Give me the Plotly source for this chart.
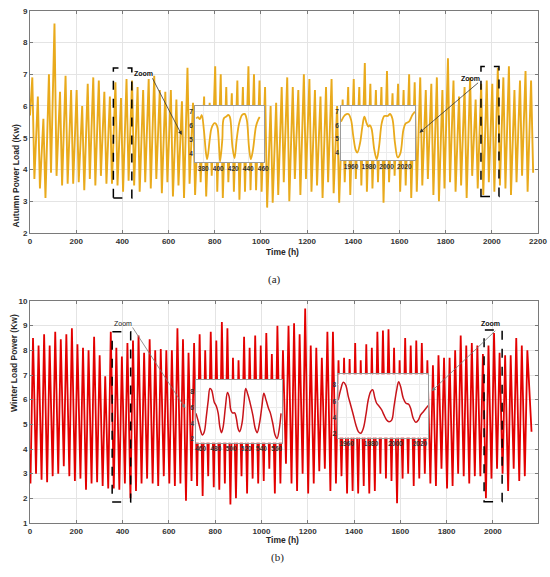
import plotly.graph_objects as go

# ---------------- data ----------------
# Autumn: one peak and one trough per day (peak ~hour 10, trough ~hour 19)
autumn_start = 5.7
autumn_peaks = [6.9, 6.3, 5.6, 7.0, 8.6, 6.45, 6.95, 6.5, 6.5, 6.0, 6.7, 6.9, 6.8, 6.45, 6.3, 6.75, 6.25, 6.85, 6.8,
                6.6, 6.5, 6.85, 6.95, 6.5, 6.45, 6.5, 6.2, 6.15, 7.2, 6.1, 5.95, 6.3, 6.1, 7.25, 7.0, 6.6, 6.4, 6.8,
                6.6, 7.25, 7.0, 6.8, 6.6,
                6.0, 6.1, 6.6, 6.9, 6.6, 6.5, 7.0, 6.85, 6.5, 6.3, 6.6, 6.85, 6.0, 6.2, 6.6, 6.85, 6.6, 7.35, 6.7,
                6.5, 6.6, 7.1, 6.4, 6.7, 6.5, 7.0, 6.75, 6.9, 6.5, 6.7, 6.9, 6.5, 7.5, 6.8, 6.3, 6.6, 6.9, 6.2, 6.7,
                6.8, 6.7, 7.2, 6.9, 7.25, 6.5, 6.8, 7.1, 6.8]
autumn_troughs = [3.7, 3.4, 3.1, 3.9, 3.8, 3.5, 3.55, 3.55, 3.6, 3.35, 3.7, 3.5, 3.8, 3.55, 3.55, 3.5, 3.3, 3.65,
                  3.5, 3.3, 3.6, 3.4, 3.7, 3.25, 3.6, 3.15, 3.5, 3.1, 3.55, 3.2, 3.6, 3.15, 3.8, 3.3, 3.1, 3.6, 3.3,
                  3.05, 3.3, 3.35, 3.35, 3.3, 2.8,
                  2.95, 3.2, 3.6, 3.0, 3.7, 3.2, 3.7, 3.3, 3.5, 3.1, 3.6, 3.25, 2.95, 3.6, 3.2, 3.7, 3.5, 3.3, 3.4,
                  3.6, 2.95, 3.6, 3.8, 3.3, 3.5, 3.1, 3.3, 3.5, 3.7, 3.2, 3.0, 3.4, 3.6, 3.3, 3.5, 3.1, 3.8, 3.4,
                  3.2, 3.6, 3.3, 3.5, 3.4, 3.2, 3.6, 3.8, 3.3, 3.9]

# Winter: one trough (~hour 2) and one peak (~hour 13) per day
winter_start = 3.8
winter_end = 4.7
winter_end_hour = 2167
winter_peaks = [8.5, 8.2, 8.65, 8.2, 8.75, 8.45, 8.65, 8.9, 8.25, 8.1, 8.0, 8.55, 7.8, 6.95, 8.75, 8.1, 7.75, 8.3,
                8.4, 8.6, 7.9, 8.45, 8.0, 8.05, 8.0, 8.0, 8.9, 8.45, 7.9, 8.3, 8.65, 8.0, 8.75, 8.4, 9.15, 8.9, 7.7,
                7.6, 8.55, 8.1, 8.6, 8.2,
                8.7, 7.85, 9.0, 8.0, 9.0, 9.1, 8.65, 9.7,
                8.2, 8.1, 7.7, 8.75, 8.75, 7.6, 7.7, 7.65, 8.3, 7.6, 8.25, 8.1, 8.75, 8.8, 8.85, 8.1, 7.6, 8.5, 8.2,
                8.4, 8.3, 7.6, 7.4, 7.8, 7.7, 7.7, 8.0, 8.6, 8.2, 8.3, 8.2, 7.85, 8.2, 8.7, 7.9, 7.8, 7.8, 8.5, 8.2,
                8.0]
winter_troughs = [2.6, 3.0, 2.75, 2.65, 2.9, 3.0, 3.3, 2.9, 2.7, 2.8, 2.35, 2.6, 2.65, 2.5, 2.4, 2.4, 2.35, 2.6, 2.0,
                  2.3, 2.6, 2.8, 2.6, 2.5, 2.9, 2.6, 2.5, 2.6, 1.9, 2.7, 2.5, 2.1, 2.9, 2.45, 2.35, 2.6, 1.75, 2.0,
                  2.9, 2.2, 2.8, 2.6, 2.7, 3.2, 2.2,
                  2.6, 3.4, 2.6, 2.3, 3.0, 2.2, 2.6, 3.1, 3.2, 2.3, 2.6, 2.9, 2.2, 2.3, 2.2, 2.5, 2.2, 2.3, 3.0, 2.8,
                  2.7, 1.8, 2.8, 3.0, 2.5, 2.8, 3.0, 2.6, 2.5, 3.2, 2.4, 2.5, 3.0, 2.9, 2.6, 2.9, 2.9, 2.0, 2.8, 3.2,
                  3.0, 2.3, 3.2, 2.7, 2.9]

# Inset (zoom) curves
a_zoom1_hours = [370.6, 373.0, 375.5, 378.0, 380.8, 383.7, 385.3, 388.6, 391.0, 395.1, 397.2, 399.2, 401.3, 402.5,
                 405.4, 407.4, 410.7, 413.5, 415.6, 418.9, 421.7, 424.6, 427.9, 431.9, 435.2, 438.1, 440.9, 443.4,
                 446.3, 450.3, 453.2, 455.3]
a_zoom1_load = [6.5, 6.6, 6.45, 6.75, 5.7, 4.0, 3.57, 4.96, 5.8, 6.16, 6.1, 5.8, 4.25, 3.4,
                4.96, 6.5, 6.64, 6.76, 6.6, 4.5, 3.64, 5.0, 6.16, 6.76, 6.83, 6.4, 4.5, 3.57,
                4.24, 5.92, 6.4, 6.6]
a_zoom2_hours = [1948.75, 1953.25, 1957.0, 1960.0, 1962.6, 1965.25, 1967.1, 1970.1, 1972.75, 1975.0, 1977.6,
                 1979.5, 1981.4, 1983.25, 1986.25, 1988.9, 1991.5, 1994.5, 1997.5, 2001.25, 2003.9, 2006.5,
                 2009.5, 2012.5, 2015.5, 2018.9, 2021.5, 2025.25, 2029.0, 2032.0]
a_zoom2_load = [6.26, 6.75, 6.83, 6.4, 5.16, 4.17, 3.98, 4.67, 5.9, 6.63, 6.14,
                5.9, 6.0, 5.7, 4.17, 3.5, 4.4, 6.14, 6.68, 6.68, 6.83, 6.5,
                4.67, 3.63, 3.93, 5.65, 6.14, 6.26, 6.75, 7.0]
w_zoom1_hours = [453.9, 457.0, 460.4, 462.2, 464.8, 467.4, 470.0, 472.2, 474.4, 477.8, 480.9, 483.1, 485.2, 487.4,
                 489.6, 492.6, 495.2, 497.4, 499.6, 501.8, 504.8, 507.0, 509.2, 511.3, 514.4, 517.0, 519.2, 522.2,
                 525.7, 528.7, 531.8, 534.4, 537.4, 540.5, 543.1, 546.1, 549.2, 551.8, 554.8, 557.9, 560.5, 563.1,
                 565.7]
w_zoom1_load = [5.25, 4.19, 2.92, 2.5, 2.92, 4.8, 6.9, 8.4, 8.2, 6.7, 6.1, 5.25, 3.55, 2.8,
                3.55, 6.1, 7.9, 7.4, 5.7, 5.3, 5.3, 4.6, 3.34, 2.92, 4.0, 6.5, 8.4, 7.6,
                6.3, 5.0, 3.34, 2.8, 4.0, 6.1, 7.8, 6.9, 5.9, 5.25, 4.0, 2.5, 2.07, 3.1,
                5.25]
w_zoom2_hours = [1953.2, 1955.1, 1957.3, 1959.2, 1961.4, 1963.3, 1965.5, 1967.6, 1969.6, 1971.5, 1973.7, 1975.8,
                 1977.7, 1979.7, 1981.3, 1983.2, 1984.6, 1986.8, 1988.7, 1990.6, 1992.8, 1994.7, 1996.9, 1998.8,
                 2001.0, 2002.6, 2004.2, 2006.4, 2008.6, 2010.8, 2012.4, 2014.6, 2016.8, 2018.7, 2020.6, 2022.8,
                 2025.0, 2026.9]
w_zoom2_load = [6.16, 7.4, 8.33, 8.0, 6.57, 5.55, 4.33, 3.1, 2.29, 2.08, 2.7, 4.33,
                6.16, 7.18, 7.4, 6.37, 5.76, 5.35, 4.94, 4.33, 3.7, 3.5, 3.7, 5.35,
                7.4, 8.4, 7.8, 6.37, 5.76, 5.63, 5.14, 3.9, 3.43, 3.7, 4.33, 4.73,
                5.14, 5.5]

# ---------------- build series ----------------
a_x, a_y = [0], [autumn_start]
for d, (p, t) in enumerate(zip(autumn_peaks, autumn_troughs)):
    a_x += [24 * d + 10, 24 * d + 19]
    a_y += [p, t]

w_x, w_y = [0], [winter_start]
for d, (t, p) in enumerate(zip(winter_troughs, winter_peaks)):
    w_x += [24 * d + 2, 24 * d + 13]
    w_y += [t, p]
w_x.append(winter_end_hour)
w_y.append(winter_end)

AUT = "#E9AA1C"
WIN = "#E30000"
FONT = "Liberation Sans"

fig = go.Figure()
fig.add_trace(go.Scatter(x=a_x, y=a_y, mode="lines", line=dict(color=AUT, width=1.9),
                         xaxis="x", yaxis="y", showlegend=False))
fig.add_trace(go.Scatter(x=w_x, y=w_y, mode="lines", line=dict(color=WIN, width=1.8),
                         xaxis="x2", yaxis="y2", showlegend=False))
fig.add_trace(go.Scatter(x=a_zoom1_hours, y=a_zoom1_load, mode="lines",
                         line=dict(color=AUT, width=1.8, shape="spline"),
                         xaxis="x3", yaxis="y3", showlegend=False))
fig.add_trace(go.Scatter(x=a_zoom2_hours, y=a_zoom2_load, mode="lines",
                         line=dict(color=AUT, width=1.8, shape="spline"),
                         xaxis="x4", yaxis="y4", showlegend=False))
fig.add_trace(go.Scatter(x=w_zoom1_hours, y=w_zoom1_load, mode="lines",
                         line=dict(color="#C8141A", width=1.5, shape="spline"),
                         xaxis="x5", yaxis="y5", showlegend=False))
fig.add_trace(go.Scatter(x=w_zoom2_hours, y=w_zoom2_load, mode="lines",
                         line=dict(color="#C8141A", width=1.5, shape="spline"),
                         xaxis="x6", yaxis="y6", showlegend=False))

tickfont = dict(family=FONT, size=8, color="#333333", weight="bold")
ax_common = dict(showgrid=True, gridcolor="#e4e4e4", gridwidth=0.7, showline=True, linecolor="#7a7a7a",
                 linewidth=0.8, mirror="ticks", ticks="inside", ticklen=3, tickcolor="#7a7a7a",
                 zeroline=False, tickfont=tickfont, automargin=False)
inset_font = dict(family=FONT, size=6.5, color="#333333", weight="bold")
inset_common = dict(showgrid=True, gridcolor="#ececec", gridwidth=0.6, showline=True, linecolor="#9a9a9a",
                    linewidth=0.8, mirror=True, ticks="", zeroline=False, tickfont=inset_font,
                    automargin=False)

fig.update_layout(
    width=550, height=577,
    margin=dict(l=30, r=12, t=10, b=54, autoexpand=False),
    paper_bgcolor="white", plot_bgcolor="white",
    xaxis=dict(domain=[0, 1], anchor="y", range=[0, 2200], tick0=0, dtick=200, **ax_common),
    yaxis=dict(domain=[0.5653, 0.9986], anchor="x", range=[2, 9], dtick=1, **ax_common),
    xaxis2=dict(domain=[0, 1], anchor="y2", range=[0, 2195], tick0=0, dtick=200, **ax_common),
    yaxis2=dict(domain=[0, 0.4327], anchor="x2", range=[1, 10], dtick=1, **ax_common),
    xaxis3=dict(domain=[0.3248, 0.4606], anchor="y3", range=[369, 461], tickvals=[380, 400, 420, 440, 460],
                **inset_common),
    yaxis3=dict(domain=[0.7037, 0.8129], anchor="x3", range=[3.37, 7.4], tickvals=[4, 5, 6, 7], **inset_common),
    xaxis4=dict(domain=[0.6122, 0.7579], anchor="y4", range=[1948.7, 2032],
                tickvals=[1960, 1980, 2000, 2020], **inset_common),
    yaxis4=dict(domain=[0.7076, 0.8129], anchor="x4", range=[3.44, 7.42], tickvals=[4, 5, 6, 7], **inset_common),
    xaxis5=dict(domain=[0.3268, 0.4967], anchor="y5", range=[453.9, 567.4],
                tickvals=[460, 480, 500, 520, 540, 560], **inset_common),
    yaxis5=dict(domain=[0.1565, 0.2788], anchor="x5", range=[1.53, 9.48], tickvals=[2, 4, 6, 8], **inset_common),
    xaxis6=dict(domain=[0.6069, 0.7841], anchor="y6", range=[1953.2, 2026.9],
                tickvals=[1960, 1980, 2000, 2020], **inset_common),
    yaxis6=dict(domain=[0.1663, 0.2899], anchor="x6", range=[1.55, 9.3], tickvals=[2, 4, 6, 8], **inset_common),
)

# dashed zoom boxes
boxes = [("x", "y", 361, 441, 3.1, 7.2), ("x", "y", 1953, 2031, 3.15, 7.24),
         ("x2", "y2", 355, 435, 1.85, 8.75), ("x2", "y2", 1962, 2040, 1.86, 8.82)]
for xr, yr, x0, x1, y0, y1 in boxes:
    fig.add_shape(type="rect", xref=xr, yref=yr, x0=x0, x1=x1, y0=y0, y1=y1,
                  line=dict(color="black", width=1.5, dash="dash"), fillcolor="rgba(0,0,0,0)")

# "Zoom" labels
zoom_labels = [("x", "y", 443, 7.02, "left", "bold", "#111111"),
               ("x", "y", 1906, 6.86, "center", "bold", "#111111"),
               ("x2", "y2", 403, 9.1, "center", "normal", "#222222"),
               ("x2", "y2", 1988, 9.1, "center", "bold", "#111111")]
for xr, yr, xv, yv, anc, wt, col in zoom_labels:
    fig.add_annotation(xref=xr, yref=yr, x=xv, y=yv, text="Zoom", showarrow=False, xanchor=anc,
                       font=dict(family=FONT, size=7, color=col, weight=wt))

# arrows
arrows = [("x", "y", 527, 6.92, 657, 5.09, "#333333"),
          ("x", "y", 1947, 6.77, 1687, 5.16, "#333333"),
          ("x2", "y2", 439, 8.99, 671, 5.65, "#777777"),
          ("x2", "y2", 2017, 8.85, 1736, 6.35, "#777777")]
for xr, yr, x0, y0, x1, y1, col in arrows:
    fig.add_annotation(xref=xr, yref=yr, axref=xr, ayref=yr, x=x1, y=y1, ax=x0, ay=y0, text="",
                       showarrow=True, arrowhead=2, arrowsize=1, arrowwidth=0.8, arrowcolor=col)

# axis titles and panel labels
title_font = dict(family=FONT, size=8.5, color="#262626", weight="bold")
fig.add_annotation(xref="paper", yref="paper", x=-0.042, y=0.782, text="Autumn Power Load (Kw)",
                   textangle=-90, showarrow=False, font=title_font)
fig.add_annotation(xref="paper", yref="paper", x=-0.044, y=0.212, text="Winter Load Power (Kw)",
                   textangle=-90, showarrow=False, font=title_font)
fig.add_annotation(xref="paper", yref="paper", x=0.498, y=0.528, text="Time (h)", showarrow=False,
                   font=title_font)
fig.add_annotation(xref="paper", yref="paper", x=0.498, y=-0.046, text="Time (h)", showarrow=False,
                   font=title_font)
fig.add_annotation(xref="paper", yref="paper", x=0.482, y=0.4737, text="(a)", showarrow=False,
                   font=dict(family="Liberation Serif", size=11, color="#222222"))
fig.add_annotation(xref="paper", yref="paper", x=0.488, y=-0.0838, text="(b)", showarrow=False,
                   font=dict(family="Liberation Serif", size=11, color="#222222"))

fig.write_html("out.html", config={"displayModeBar": False},
               post_script="document.body.style.margin='0';document.body.style.padding='0';"
                           "document.body.style.overflow='hidden';")
